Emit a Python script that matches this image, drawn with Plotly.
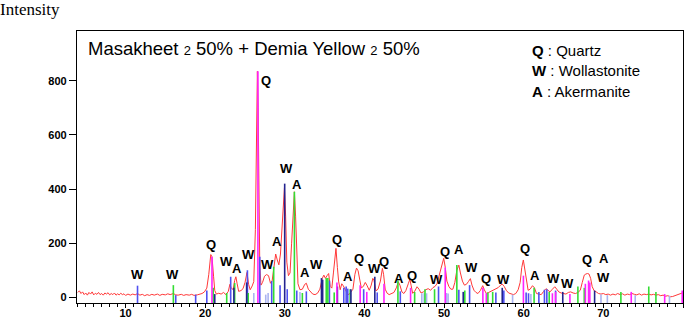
import plotly.graph_objects as go

# ---------------- data ----------------
two_theta = [4.0, 4.2, 4.4, 4.6, 4.8, 5.0, 5.2, 5.4, 5.6, 5.8, 6.0, 6.2, 6.4, 6.6, 6.8, 7.0, 7.2, 7.4, 7.6, 7.8,
             8.0, 8.2, 8.4, 8.6, 8.8, 9.0, 9.2, 9.4, 9.6, 9.8, 10.0, 10.3, 10.6, 10.9, 11.2, 11.5, 11.8, 12.1, 12.4, 12.7,
             13.0, 13.3, 13.6, 14.0, 14.3, 14.6, 15.0, 15.3, 15.6, 16.0, 16.3, 16.6, 17.0, 17.3, 17.6, 18.0, 18.3, 18.6, 19.0, 19.3,
             19.6, 19.9, 20.2, 20.45, 20.7, 20.85, 20.95, 21.05, 21.2, 21.4, 21.7, 22.0, 22.3, 22.6, 22.9, 23.1, 23.25, 23.5, 23.7, 23.85,
             24.0, 24.2, 24.5, 24.75, 25.0, 25.25, 25.45, 25.65, 25.9, 26.1, 26.3, 26.45, 26.55, 26.65, 26.75, 26.85, 27.0, 27.2, 27.45, 27.7,
             27.95, 28.2, 28.4, 28.6, 28.85, 29.05, 29.25, 29.45, 29.65, 29.85, 29.95, 30.1, 30.25, 30.45, 30.65, 30.85, 31.05, 31.2, 31.35, 31.5,
             31.65, 31.9, 32.2, 32.5, 32.7, 32.95, 33.2, 33.5, 33.8, 34.1, 34.4, 34.7, 34.9, 35.1, 35.3, 35.5, 35.7, 35.9, 36.1, 36.3,
             36.42, 36.6, 36.75, 36.95, 37.15, 37.35, 37.6, 37.85, 38.05, 38.3, 38.55, 38.8, 39.0, 39.2, 39.35, 39.6, 39.85, 40.1, 40.3, 40.6,
             40.85, 41.05, 41.2, 41.45, 41.7, 42.0, 42.25, 42.4, 42.6, 42.85, 43.1, 43.4, 43.7, 44.0, 44.25, 44.45, 44.7, 44.95, 45.2, 45.5,
             45.7, 45.85, 46.05, 46.3, 46.6, 46.85, 47.1, 47.4, 47.7, 48.0, 48.3, 48.6, 48.85, 49.1, 49.4, 49.7, 49.95, 50.15, 50.35, 50.6,
             50.85, 51.1, 51.35, 51.6, 51.85, 52.05, 52.3, 52.55, 52.8, 53.05, 53.3, 53.5, 53.75, 54.0, 54.25, 54.55, 54.85, 55.05, 55.3, 55.6,
             55.9, 56.2, 56.5, 56.8, 57.1, 57.3, 57.55, 57.8, 58.1, 58.4, 58.7, 59.0, 59.3, 59.55, 59.75, 59.95, 60.15, 60.35, 60.55, 60.8,
             61.1, 61.35, 61.6, 61.9, 62.2, 62.5, 62.8, 63.05, 63.3, 63.6, 63.9, 64.15, 64.4, 64.7, 65.0, 65.3, 65.6, 65.9, 66.2, 66.5,
             66.8, 67.1, 67.35, 67.6, 67.8, 68.0, 68.2, 68.4, 68.6, 68.85, 69.1, 69.4, 69.7, 70.0, 70.3, 70.6, 70.9, 71.2, 71.5, 71.8,
             72.1, 72.4, 72.7, 73.0, 73.3, 73.6, 73.9, 74.2, 74.5, 74.8, 75.1, 75.4, 75.7, 76.0, 76.3, 76.6, 76.9, 77.2, 77.5, 77.8,
             78.1, 78.4, 78.7, 79.0, 79.3, 79.6, 79.9]
intensity = [18, 24, 14, 20, 10, 16, 8, 18, 12, 20, 9, 15, 11, 18, 10, 14, 8, 16, 12, 17,
             9, 14, 10, 16, 8, 13, 9, 15, 10, 13, 7, 12, 8, 12, 9, 14, 8, 11, 6, 10,
             7, 11, 8, 12, 7, 11, 9, 13, 10, 14, 9, 8, 11, 7, 10, 8, 11, 7, 9, 12,
             14, 20, 34, 85, 158, 150, 90, 78, 25, 12, 15, 12, 18, 10, 22, 48, 36, 28, 62, 76,
             52, 22, 25, 32, 55, 92, 48, 28, 42, 58, 250, 640, 835, 700, 330, 120, 45, 55, 78, 84,
             80, 52, 60, 110, 160, 138, 120, 160, 260, 390, 405, 300, 130, 80, 90, 200, 340, 390, 300, 140,
             50, 28, 30, 48, 52, 30, 20, 12, 10, 15, 30, 70, 82, 70, 80, 88, 40, 34, 90, 165,
             181, 110, 60, 28, 50, 42, 26, 14, 10, 18, 30, 85, 108, 98, 75, 35, 40, 55, 45, 26,
             45, 70, 62, 24, 30, 60, 107, 85, 30, 15, 10, 14, 18, 35, 57, 45, 20, 14, 25, 50,
             67, 45, 15, 22, 39, 30, 16, 20, 28, 32, 26, 36, 40, 50, 82, 110, 144, 110, 60, 40,
             30, 30, 55, 100, 119, 90, 60, 45, 48, 58, 69, 45, 26, 18, 14, 25, 43, 28, 14, 18,
             22, 26, 30, 36, 45, 49, 40, 26, 16, 12, 10, 14, 28, 55, 110, 138, 100, 55, 26, 30,
             43, 35, 14, 12, 10, 22, 32, 26, 20, 30, 39, 30, 20, 16, 14, 12, 18, 20, 16, 14,
             18, 26, 55, 82, 86, 88, 86, 70, 39, 24, 20, 14, 12, 14, 10, 12, 8, 12, 9, 14,
             10, 13, 8, 12, 10, 14, 11, 9, 13, 8, 12, 10, 12, 9, 11, 8, 10, 6, 8, 4,
             6, 2, 3, 6, 10, 12, 16]

# reference sticks (2theta, height)
quartz_x = [20.85, 26.62, 36.54, 39.46, 40.29, 42.45, 45.79, 50.14, 54.87, 55.3, 59.96, 63.6, 64.0, 65.8, 67.74, 68.14, 68.3, 73.5, 77.7, 79.9]
quartz_h = [150, 835, 55, 45, 20, 50, 35, 110, 35, 15, 80, 15, 20, 12, 50, 62, 55, 20, 12, 25]

green_x = [16.0, 21.0, 22.7, 23.7, 25.4, 28.6, 31.2, 32.2, 35.2, 35.4, 36.2, 38.2, 44.2, 46.3, 47.6, 48.8, 51.6, 52.6, 55.5, 56.1, 61.3, 63.2, 66.8, 67.6, 72.2, 75.7, 76.6]
green_h = [45, 35, 16, 53, 16, 113, 390, 16, 71, 71, 18, 30, 62, 20, 30, 30, 119, 25, 18, 20, 35, 20, 40, 35, 20, 40, 20]

blue_x = [11.5, 16.3, 18.8, 20.2, 23.2, 25.3, 26.85, 28.35, 29.4, 30.3, 31.5, 32.7, 35.6, 37.4, 37.7, 37.9, 39.9, 41.6, 44.5, 49.3, 51.85, 53.2, 56.5, 57.5, 60.3, 60.6, 61.9, 62.6, 62.9, 64.0]
blue_h = [43, 8, 10, 25, 76, 100, 150, 60, 45, 30, 25, 22, 62, 35, 40, 32, 30, 18, 22, 40, 28, 45, 18, 25, 18, 15, 20, 28, 30, 25]

dark_x = [21.2, 23.6, 25.2, 29.98, 34.6, 34.75, 36.6, 38.3, 41.3, 52.4, 57.3, 64.9, 68.9]
dark_h = [12, 35, 55, 420, 71, 65, 40, 30, 76, 20, 35, 20, 25]

light_x = [26.1, 27.6, 27.9, 31.9, 47.2, 47.5, 47.8, 50.3, 50.5, 58.6, 60.9, 69.7, 70.5, 74.0, 78.3]
light_h = [16, 10, 16, 20, 15, 15, 15, 16, 14, 10, 12, 10, 8, 8, 6]

peak_labels = ["W", "W", "Q", "W", "A", "W", "Q", "W", "A", "W", "A", "A", "W", "Q", "A", "Q", "W", "Q",
               "A", "Q", "W", "Q", "A", "W", "Q", "W", "Q", "A", "W", "W", "Q", "A", "W"]
label_x = [11.5, 15.9, 20.7, 22.7, 24.0, 25.4, 27.6, 27.8, 29.0, 30.2, 31.5, 32.5, 34.0, 36.5, 37.9, 39.3, 41.3, 42.5,
           44.3, 46.0, 49.1, 50.1, 51.9, 53.5, 55.2, 57.5, 60.1, 61.4, 63.7, 65.5, 68.0, 70.1, 70.0]
label_y = [84, 84, 194, 134, 108, 158, 800, 122, 205, 476, 418, 90, 121, 215, 78, 144, 105, 132,
           68, 80, 66, 171, 175, 110, 68, 66, 181, 80, 68, 52, 138, 144, 72]

legend_keys = ["Q", "W", "A"]
legend_names = ["Quartz", "Wollastonite", "Akermanite"]

title_text = "Masakheet <span style='font-size:13px'>2</span> 50% + Demia Yellow <span style='font-size:13px'>2</span> 50%"

# ---------------- figure ----------------
Y0, Y1 = -21, 984
fig = go.Figure()

fig.add_trace(go.Scatter(x=two_theta, y=intensity, mode="lines",
                         line=dict(color="#ff3838", width=1), hoverinfo="skip"))


def sticks(xs, hs, color, width=1.6):
    sx, sy = [], []
    for xv, hv in zip(xs, hs):
        sx += [xv, xv, None]
        sy += [Y0, hv, None]
    fig.add_trace(go.Scatter(x=sx, y=sy, mode="lines", line=dict(color=color, width=width),
                             hoverinfo="skip"))


sticks(light_x, light_h, "#aab4f0")
sticks(blue_x, blue_h, "#5050f0")
sticks(green_x, green_h, "#33dd33")
sticks(dark_x, dark_h, "#23238f")
sticks(quartz_x, quartz_h, "#ff22ff")

for t, xv, yv in zip(peak_labels, label_x, label_y):
    fig.add_annotation(x=xv, y=yv, xref="x", yref="y", text=t, showarrow=False,
                       font=dict(family="Liberation Sans", size=13, color="black", weight="bold"))

W_PLOT, H_PLOT, L, T = 606, 272, 77, 31


def px(xp):
    return (xp - L) / W_PLOT


def py(yp):
    return (T + H_PLOT - yp) / H_PLOT


fig.add_annotation(x=px(86), y=py(48), xref="paper", yref="paper", text=title_text,
                   showarrow=False, xanchor="left", yanchor="middle",
                   font=dict(family="Liberation Sans", size=18.5, color="black"))

for i, (k, n) in enumerate(zip(legend_keys, legend_names)):
    fig.add_annotation(x=px(530), y=py(50.5 + 20.3 * i), xref="paper", yref="paper",
                       text=f"<b>{k}</b> : {n}", showarrow=False, xanchor="left", yanchor="middle",
                       font=dict(family="Liberation Sans", size=15, color="black"))

fig.add_annotation(x=px(-2), y=py(9), xref="paper", yref="paper", text="Intensity",
                   showarrow=False, xanchor="left", yanchor="middle",
                   font=dict(family="Liberation Serif", size=17, color="black"))

fig.update_layout(
    width=685, height=319,
    margin=dict(l=L, r=685 - L - W_PLOT, t=T, b=319 - T - H_PLOT, autoexpand=False),
    paper_bgcolor="white", plot_bgcolor="white",
    showlegend=False,
    xaxis=dict(range=[3.9, 80.0], showgrid=False, zeroline=False, automargin=False,
               showline=True, mirror=True, linecolor="black", linewidth=1.3,
               ticks="outside", ticklen=4, tickcolor="black", dtick=10, tick0=0,
               ticklabelstandoff=-4,
               minor=dict(dtick=1, ticks="outside", ticklen=3, tickcolor="black"),
               tickfont=dict(family="Liberation Sans", size=11, color="black", weight="bold")),
    yaxis=dict(range=[Y0, Y1], showgrid=False, zeroline=False, automargin=False,
               showline=True, mirror=True, linecolor="black", linewidth=1.3,
               ticks="outside", ticklen=7, tickcolor="black",
               tickvals=[0, 200, 400, 600, 800],
               tickfont=dict(family="Liberation Sans", size=11, color="black", weight="bold")),
)

fig.write_html("out.html", config={"displayModeBar": False},
               post_script="document.body.style.margin='0';")
